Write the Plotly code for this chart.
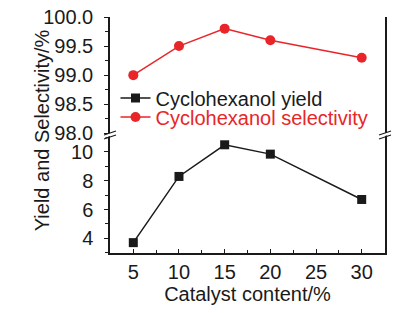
import plotly.graph_objects as go

catalyst = [5, 10, 15, 20, 30]
yield_vals = [3.7, 8.3, 10.5, 9.85, 6.7]
selectivity_vals = [99.0, 99.5, 99.8, 99.6, 99.3]
x_ticks = [5, 10, 15, 20, 25, 30]
y_low_ticks = [4, 6, 8, 10]
y_high_ticks = [98.0, 98.5, 99.0, 99.5, 100.0]

RED = "#e8262a"
BLACK = "#1a1a1a"
FONT = "Liberation Sans, Arial, sans-serif"

fig = go.Figure()
fig.add_trace(go.Scatter(
    x=catalyst, y=yield_vals, mode="lines+markers", name="Cyclohexanol yield",
    line=dict(color=BLACK, width=1.5),
    marker=dict(symbol="square", size=9, color=BLACK),
    xaxis="x", yaxis="y", legend="legend"))
fig.add_trace(go.Scatter(
    x=catalyst, y=selectivity_vals, mode="lines+markers", name="Cyclohexanol selectivity",
    line=dict(color=RED, width=1.5),
    marker=dict(symbol="circle", size=10, color=RED),
    xaxis="x", yaxis="y2", legend="legend2"))

axis_common = dict(showline=True, linecolor=BLACK, linewidth=1.5, showgrid=False,
                   zeroline=False, ticklen=4, tickwidth=1.2, automargin=False,
                   tickcolor=BLACK, tickfont=dict(family=FONT, size=20, color=BLACK))

fig.update_layout(
    width=408, height=313,
    margin=dict(l=110, r=23, t=17, b=60),
    paper_bgcolor="white", plot_bgcolor="white",
    font=dict(family=FONT, size=20, color=BLACK),
    xaxis=dict(range=[2.45, 32.55], tickvals=x_ticks, anchor="y", ticks="inside",
               minor=dict(dtick=2.5, tick0=2.5, ticks="inside", ticklen=3, tickcolor=BLACK),
               title=dict(text="Catalyst content/%", font=dict(size=20), standoff=3),
               **axis_common),
    xaxis2=dict(range=[2.45, 32.55], overlaying="x", anchor="y2", side="top",
                showline=True, linecolor=BLACK, linewidth=1.5, showticklabels=False,
                ticks="", showgrid=False, zeroline=False, automargin=False),
    yaxis=dict(domain=[0, 0.5], range=[2.98, 11.18], tickvals=y_low_ticks, mirror=True,
               ticks="outside",
               minor=dict(dtick=1, tick0=1, ticks="outside", ticklen=3, tickcolor=BLACK),
               ticklabelstandoff=7, **axis_common),
    yaxis2=dict(domain=[0.5, 1], range=[97.97, 100.0], tickvals=y_high_ticks, mirror=True,
                tickformat=".1f", ticks="outside",
                minor=dict(dtick=0.25, tick0=98, ticks="outside", ticklen=3, tickcolor=BLACK),
                ticklabelstandoff=7, **axis_common),
    showlegend=True,
    legend=dict(x=0.02, y=0.657, xanchor="left", yanchor="middle", bgcolor="rgba(0,0,0,0)",
                font=dict(family=FONT, size=20, color=BLACK), itemwidth=30),
    legend2=dict(x=0.02, y=0.576, xanchor="left", yanchor="middle", bgcolor="rgba(0,0,0,0)",
                 font=dict(family=FONT, size=20, color=RED), itemwidth=30),
)

# Y-axis title as annotation spanning both panels
fig.add_annotation(text="Yield and Selectivity/%", xref="paper", yref="paper",
                   x=0, y=0.52, xshift=-68, textangle=-90, showarrow=False,
                   xanchor="center", yanchor="middle",
                   font=dict(family=FONT, size=20, color=BLACK))

# axis break marks
for xa in (0, 1):
    fig.add_shape(type="path", xref="paper", yref="paper", xsizemode="pixel",
                  ysizemode="pixel", xanchor=xa, yanchor=0.5,
                  path="M-6,-3 L6,1 L6,4 L-6,0 Z", fillcolor="white",
                  line=dict(width=0), layer="above")
    for dy in (-3, 1):
        fig.add_shape(type="line", xref="paper", yref="paper", xsizemode="pixel",
                      ysizemode="pixel", xanchor=xa, yanchor=0.5,
                      x0=-6, x1=6, y0=dy - 1, y1=dy + 3,
                      line=dict(color=BLACK, width=1.3), layer="above")

fig.write_html("out.html", config={"displayModeBar": False},
               post_script="document.body.style.margin='0';document.body.style.padding='0';")
